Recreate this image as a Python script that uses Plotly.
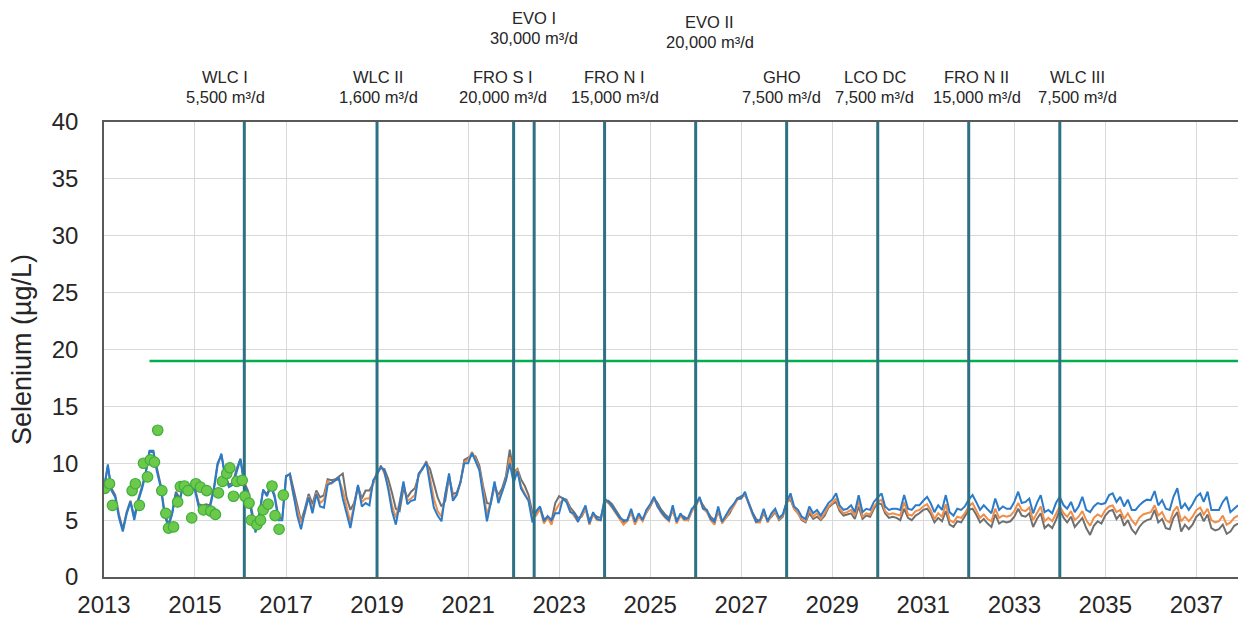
import pandas as pd
import plotly.graph_objects as go

# ---------------------------------------------------------------------------
# Data
# ---------------------------------------------------------------------------
# Monthly projected selenium concentration (µg/L), one row per year Jan..Dec
model_start = "2013-01-01"

case1_values = [  # blue
    7.7, 9.9, 7.6, 7.0, 5.2, 4.0, 5.5, 6.6, 5.0, 6.6, 7.7, 9.0,      # 2013
    11.1, 11.1, 9.3, 7.9, 5.5, 4.4, 5.5, 7.3, 6.7, 8.2, 7.4, 8.0,    # 2014
    7.6, 6.1, 6.1, 6.2, 6.1, 7.6, 9.8, 10.85, 8.7, 7.9, 8.1, 9.3,    # 2015
    10.35, 8.0, 7.4, 5.5, 3.9, 5.5, 7.7, 7.1, 8.0, 7.0, 5.0, 5.0,    # 2016
    8.9, 9.0, 7.3, 5.4, 4.2, 5.8, 7.0, 5.6, 7.3, 6.2, 6.1, 8.1,      # 2017
    8.3, 8.5, 8.7, 6.9, 5.5, 4.3, 6.1, 8.1, 6.2, 6.5, 6.3, 8.5,      # 2018
    9.0, 9.7, 9.3, 7.7, 5.8, 4.6, 6.4, 8.4, 6.4, 6.7, 6.8, 9.1,      # 2019
    9.5, 10.1, 8.1, 6.1, 5.4, 4.9, 7.2, 9.1, 6.7, 7.2, 8.4, 10.0,    # 2020
    10.0, 10.9, 10.2, 9.4, 7.2, 4.9, 6.5, 8.4, 6.5, 7.4, 8.5, 10.0,  # 2021
    8.3, 9.3, 7.8, 7.2, 6.7, 4.8, 5.8, 6.2, 4.9, 5.35, 5.0, 5.6,     # 2022
    5.6, 6.9, 6.6, 5.7, 5.6, 4.85, 5.6, 6.3, 4.7, 5.7, 5.1, 5.0,     # 2023
    6.9, 6.6, 6.2, 5.7, 5.2, 5.0, 5.0, 6.0, 4.85, 5.6, 5.0, 5.9,     # 2024
    6.4, 7.05, 6.2, 5.7, 5.3, 5.0, 6.3, 4.85, 5.6, 5.1, 5.2, 6.0,    # 2025
    6.3, 7.05, 6.0, 5.9, 5.1, 4.85, 6.2, 4.85, 5.4, 6.0, 6.4, 6.9,   # 2026
    6.9, 7.5, 6.5, 5.6, 4.85, 5.0, 6.0, 4.9, 5.6, 6.0, 5.2, 5.5,     # 2027
    6.6, 7.35, 6.2, 5.9, 5.3, 5.1, 6.2, 5.6, 5.9, 5.4, 5.9, 6.5,     # 2028
    6.8, 7.35, 6.3, 5.9, 6.0, 6.3, 5.7, 7.2, 5.7, 6.0, 5.9, 6.6,     # 2029
    7.0, 7.35, 6.2, 5.9, 6.0, 6.0, 5.9, 7.2, 6.0, 5.9, 6.3, 6.3,     # 2030
    6.7, 7.05, 6.5, 5.7, 6.3, 5.9, 7.2, 5.7, 5.4, 6.0, 5.9, 6.2,     # 2031
    6.8, 7.2, 6.6, 5.9, 6.3, 5.9, 5.6, 6.9, 5.9, 6.2, 6.0, 6.0,      # 2032
    6.6, 7.5, 6.5, 6.6, 6.9, 5.6, 6.5, 7.2, 5.7, 5.9, 5.6, 6.5,      # 2033
    7.05, 6.3, 6.0, 6.6, 5.7, 6.2, 7.05, 5.9, 5.7, 6.2, 6.5, 6.4,    # 2034
    6.5, 7.2, 7.35, 6.6, 7.05, 6.2, 6.8, 5.9, 5.9, 6.3, 6.6, 6.8,    # 2035
    6.75, 7.55, 6.3, 6.75, 6.0, 5.9, 7.05, 7.8, 6.0, 6.45, 5.9, 6.4, # 2036
    7.05, 7.35, 6.6, 7.5, 5.9, 5.9, 5.9, 6.6, 7.05, 5.7, 6.0, 6.3,   # 2037
]

case3_values = [  # grey
    7.9, 9.7, 7.8, 7.2, 5.5, 4.2, 5.7, 6.7, 5.3, 6.8, 7.9, 9.2,      # 2013
    11.0, 11.0, 9.6, 8.1, 5.8, 4.6, 5.6, 7.5, 6.9, 8.1, 7.6, 8.2,    # 2014
    7.8, 6.4, 6.3, 6.4, 6.3, 7.8, 10.0, 10.7, 8.9, 8.1, 8.3, 9.5,    # 2015
    10.4, 8.3, 7.6, 5.8, 4.2, 5.6, 7.6, 7.3, 8.0, 7.2, 5.3, 5.1,     # 2016
    8.8, 9.1, 7.8, 6.2, 4.9, 6.0, 7.3, 6.4, 7.6, 7.0, 7.2, 8.6,      # 2017
    8.5, 8.6, 8.8, 9.1, 7.0, 5.9, 6.5, 8.0, 6.9, 7.6, 7.6, 8.2,      # 2018
    9.2, 9.6, 9.5, 8.6, 7.4, 6.0, 5.8, 7.8, 7.0, 7.5, 7.8, 8.9,      # 2019
    9.6, 10.0, 9.5, 8.3, 7.0, 6.2, 6.7, 8.8, 7.3, 7.4, 8.3, 10.3,    # 2020
    10.5, 10.7, 10.6, 9.8, 8.0, 6.5, 6.4, 8.0, 7.2, 7.8, 8.9, 11.2,  # 2021
    9.2, 9.5, 8.6, 8.0, 7.2, 5.6, 5.5, 6.1, 5.1, 5.2, 4.9, 6.5,      # 2022
    7.1, 6.9, 6.8, 6.1, 5.7, 5.2, 5.3, 6.0, 5.0, 5.5, 5.3, 5.2,      # 2023
    6.6, 6.7, 6.4, 5.9, 5.3, 4.8, 5.0, 5.7, 4.9, 5.3, 5.1, 5.6,      # 2024
    6.2, 6.9, 6.5, 5.9, 5.5, 5.2, 5.8, 5.0, 5.4, 5.3, 5.0, 5.8,      # 2025
    6.5, 6.9, 6.3, 5.8, 5.3, 5.0, 5.7, 4.9, 5.2, 5.6, 6.2, 6.9,      # 2026
    7.1, 7.2, 6.6, 5.7, 5.1, 4.9, 5.6, 5.0, 5.3, 5.7, 5.0, 5.3,      # 2027
    6.6, 6.8, 6.0, 5.6, 5.0, 4.8, 5.6, 5.1, 5.3, 5.0, 5.4, 6.1,      # 2028
    6.4, 6.6, 5.8, 5.4, 5.5, 5.6, 5.1, 6.2, 5.1, 5.4, 5.3, 6.0,      # 2029
    6.5, 6.4, 5.6, 5.2, 5.3, 5.2, 5.0, 6.0, 5.2, 5.0, 5.4, 5.6,      # 2030
    5.9, 6.0, 5.6, 4.8, 5.2, 4.9, 5.8, 4.6, 4.4, 4.9, 4.8, 5.3,      # 2031
    5.9, 6.0, 5.5, 4.8, 5.1, 4.7, 4.4, 5.5, 4.7, 4.9, 4.8, 4.9,      # 2032
    5.3, 6.0, 5.4, 5.3, 5.6, 4.4, 5.1, 5.6, 4.3, 4.6, 4.3, 5.0,      # 2033
    5.9, 5.2, 4.8, 5.3, 4.4, 4.8, 5.2, 4.3, 3.7, 4.5, 4.9, 4.7,      # 2034
    5.4, 5.8, 5.9, 5.1, 5.5, 4.5, 5.0, 4.2, 3.8, 4.4, 4.8, 5.0,      # 2035
    5.1, 5.9, 4.8, 5.1, 4.3, 4.2, 5.2, 5.7, 4.0, 4.6, 4.2, 4.6,      # 2036
    5.3, 5.6, 4.9, 5.5, 4.3, 4.1, 4.2, 4.6, 3.8, 4.0, 4.5, 4.7,      # 2037
]

# Orange case begins February 2017
case2_start = "2017-02-01"
case2_values = [  # orange
    8.8, 7.2, 5.9, 4.8, 5.6, 7.1, 5.9, 7.4, 6.5, 6.8, 8.4,           # 2017 (Feb..Dec)
    8.2, 8.5, 8.6, 7.6, 6.2, 4.8, 6.3, 7.9, 6.6, 6.9, 6.9, 8.3,      # 2018
    9.2, 9.8, 9.1, 8.0, 6.3, 5.2, 6.6, 8.2, 6.7, 6.9, 7.2, 9.0,      # 2019
    9.5, 10.2, 8.7, 6.9, 5.8, 5.3, 7.3, 8.9, 7.0, 7.2, 8.3, 10.1,    # 2020
    10.3, 11.0, 10.4, 9.5, 7.7, 5.5, 6.6, 8.2, 6.8, 7.5, 8.6, 10.5,  # 2021
    8.8, 9.5, 8.0, 7.4, 6.7, 5.2, 5.4, 6.0, 4.7, 5.2, 4.6, 5.8,      # 2022
    6.4, 6.8, 6.7, 5.8, 5.4, 4.9, 5.4, 6.0, 4.6, 5.5, 5.0, 5.0,      # 2023
    6.7, 6.5, 6.1, 5.6, 5.0, 4.6, 4.9, 5.7, 4.6, 5.3, 4.9, 5.7,      # 2024
    6.3, 6.9, 6.2, 5.6, 5.2, 4.9, 6.0, 4.7, 5.4, 5.0, 5.0, 5.8,      # 2025
    6.2, 6.9, 6.0, 5.7, 5.0, 4.6, 5.9, 4.7, 5.2, 5.8, 6.2, 6.8,      # 2026
    6.9, 7.3, 6.5, 5.5, 4.8, 4.8, 5.8, 4.8, 5.4, 5.8, 5.1, 5.4,      # 2027
    6.5, 7.0, 6.0, 5.6, 5.1, 4.9, 5.9, 5.3, 5.6, 5.1, 5.6, 6.2,      # 2028
    6.5, 6.9, 6.0, 5.6, 5.7, 5.9, 5.4, 6.7, 5.3, 5.6, 5.5, 6.2,      # 2029
    6.6, 6.8, 5.8, 5.5, 5.6, 5.5, 5.4, 6.6, 5.5, 5.4, 5.8, 5.9,      # 2030
    6.2, 6.4, 5.9, 5.1, 5.6, 5.3, 6.4, 5.0, 4.8, 5.3, 5.2, 5.6,      # 2031
    6.2, 6.5, 5.9, 5.2, 5.5, 5.1, 4.9, 6.0, 5.2, 5.4, 5.3, 5.4,      # 2032
    5.8, 6.5, 5.9, 5.8, 6.1, 5.0, 5.6, 6.2, 4.9, 5.2, 4.9, 5.5,      # 2033
    6.2, 5.6, 5.3, 5.8, 5.0, 5.3, 5.8, 5.0, 4.5, 5.2, 5.5, 5.3,      # 2034
    5.9, 6.2, 6.3, 5.7, 5.9, 5.1, 5.6, 5.0, 4.6, 5.2, 5.5, 5.6,      # 2035
    5.7, 6.3, 5.4, 5.7, 5.0, 4.8, 5.8, 6.2, 4.9, 5.3, 4.9, 5.3,      # 2036
    5.9, 6.1, 5.5, 6.0, 5.0, 4.8, 4.9, 5.4, 4.6, 4.8, 5.2, 5.4,      # 2037
]

# Measured concentrations
obs_dates = [
    "2013-01-08", "2013-02-14", "2013-03-10", "2013-08-15", "2013-09-10",
    "2013-10-12", "2013-11-14", "2013-12-16", "2014-01-08", "2014-02-10",
    "2014-03-08", "2014-04-10", "2014-05-12", "2014-06-03", "2014-07-13",
    "2014-08-15", "2014-09-06", "2014-10-08", "2014-11-06", "2014-12-06",
    "2015-01-08", "2015-02-14", "2015-03-10", "2015-04-05", "2015-05-08",
    "2015-06-14", "2015-07-08", "2015-08-10", "2015-09-13", "2015-10-08",
    "2015-11-06", "2015-12-02", "2016-01-15", "2016-02-06", "2016-03-10",
    "2016-03-28", "2016-05-12", "2016-06-10", "2016-07-01", "2016-08-10",
    "2016-09-10", "2016-10-05", "2016-11-06", "2016-12-10",
]
obs_values = [
    7.8, 8.2, 6.3, 7.6, 8.2,
    6.3, 10.0, 8.8, 10.3, 10.1,
    12.9, 7.6, 5.6, 4.3, 4.4,
    6.6, 7.95, 8.0, 7.6, 5.2,
    8.2, 7.9, 5.9, 7.6, 5.8,
    5.5, 7.4, 8.4, 9.1, 9.6,
    7.1, 8.4, 8.5, 7.1, 6.5,
    5.0, 4.6, 5.0, 5.9, 6.4,
    8.0, 5.4, 4.2, 7.2,
]

# Water quality benchmark
threshold_value = 19
threshold_start = "2014-01-01"

# Treatment facility commissioning
event_names = ["WLC I", "WLC II", "FRO S I", "EVO I", "FRO N I",
               "EVO II", "GHO", "LCO DC", "FRO N II", "WLC III"]
event_capacity = ["5,500 m³/d", "1,600 m³/d", "20,000 m³/d", "30,000 m³/d",
                  "15,000 m³/d", "20,000 m³/d", "7,500 m³/d", "7,500 m³/d",
                  "15,000 m³/d", "7,500 m³/d"]
event_dates = ["2016-02-01", "2019-01-01", "2022-01-01", "2022-06-15",
               "2024-01-01", "2026-01-01", "2028-01-01", "2030-01-01",
               "2032-01-01", "2034-01-01"]

x_start, x_end = "2013-01-01", "2037-12-01"
y_min, y_max = 0, 40

# ---------------------------------------------------------------------------
# Styling / label placement
# ---------------------------------------------------------------------------
FONT = "Arial, 'Liberation Sans', sans-serif"
TEXT = "#262626"
BLUE = "#2b7bc9"
ORANGE = "#f08d47"
GREY = "#707070"
TEAL = "#2f7184"
GREEN = "#00b050"

# horizontal nudge (px) of each facility label and paper height of its two lines
label_xshift = [-19, 1, -11, 0, 10, 14, -5, -3, 8, 18]
LOW_ROW = (1.099, 1.055)
label_rows = [LOW_ROW, LOW_ROW, LOW_ROW, (1.229, 1.185), LOW_ROW,
              (1.220, 1.176), LOW_ROW, LOW_ROW, LOW_ROW, LOW_ROW]
LABEL_SIZE = 16.5

# ---------------------------------------------------------------------------
# Figure
# ---------------------------------------------------------------------------
case1_dates = pd.date_range(model_start, periods=len(case1_values), freq="MS")
case3_dates = pd.date_range(model_start, periods=len(case3_values), freq="MS")
case2_dates = pd.date_range(case2_start, periods=len(case2_values), freq="MS")

fig = go.Figure()

fig.add_trace(go.Scatter(x=[threshold_start, x_end], y=[threshold_value, threshold_value],
                         mode="lines", line=dict(color=GREEN, width=2.5),
                         name="Benchmark", hoverinfo="skip"))

fig.add_trace(go.Scatter(x=case3_dates, y=case3_values, mode="lines",
                         line=dict(color=GREY, width=2), name="Case 3"))
fig.add_trace(go.Scatter(x=case2_dates, y=case2_values, mode="lines",
                         line=dict(color=ORANGE, width=2), name="Case 2"))
fig.add_trace(go.Scatter(x=case1_dates, y=case1_values, mode="lines",
                         line=dict(color=BLUE, width=2), name="Case 1"))

# facility start-up markers
for name, date in zip(event_names, event_dates):
    fig.add_trace(go.Scatter(x=[date, date], y=[y_min, y_max], mode="lines",
                             line=dict(color=TEAL, width=3), name=name,
                             hoverinfo="skip"))

fig.add_trace(go.Scatter(x=obs_dates, y=obs_values, mode="markers",
                         marker=dict(size=10.5, color="#6cc94a",
                                     line=dict(color="#3fae3f", width=1.2)),
                         name="Observed"))

for name, cap, date, dx, (y_name, y_cap) in zip(event_names, event_capacity,
                                                 event_dates, label_xshift,
                                                 label_rows):
    for text, yp in ((name, y_name), (cap, y_cap)):
        fig.add_annotation(x=date, xref="x", y=yp, yref="paper",
                           text=text, showarrow=False,
                           xanchor="center", yanchor="middle", xshift=dx,
                           font=dict(family=FONT, size=LABEL_SIZE, color=TEXT))

fig.update_layout(
    width=1239, height=621,
    margin=dict(l=104, r=1, t=122, b=44),
    paper_bgcolor="white", plot_bgcolor="white",
    showlegend=False,
    font=dict(family=FONT, color=TEXT),
)

fig.update_xaxes(
    type="date", range=[x_start, x_end],
    tick0=x_start, dtick="M24", tickformat="%Y",
    showgrid=True, gridcolor="#d9d9d9", gridwidth=1,
    showline=True, linecolor="#595959", linewidth=1.5, mirror=True,
    ticks="", ticklabelstandoff=5,
    tickfont=dict(family=FONT, size=24, color=TEXT),
    zeroline=False,
)
fig.update_yaxes(
    range=[y_min, y_max], dtick=5, tick0=0,
    showgrid=True, gridcolor="#d9d9d9", gridwidth=1,
    showline=True, linecolor="#595959", linewidth=1.5,
    ticks="", ticklabelstandoff=19,
    tickfont=dict(family=FONT, size=24, color=TEXT),
    title=dict(text="Selenium (µg/L)", standoff=12,
               font=dict(family=FONT, size=27, color=TEXT)),
    zeroline=False,
)

fig.write_html("out.html")
